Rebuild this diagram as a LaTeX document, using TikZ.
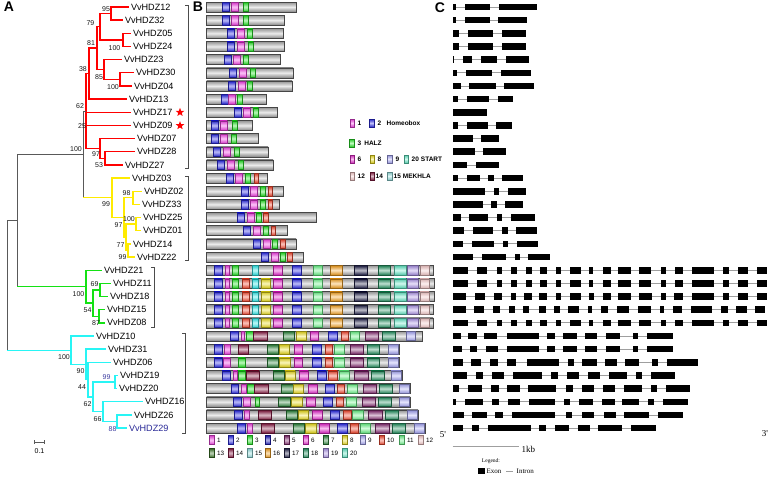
\documentclass[tikz,border=0pt]{standalone}
\usepackage{fontspec}
\setmainfont{Liberation Sans}
\newfontfamily\timesfont{Liberation Serif}
\usetikzlibrary{shapes.geometric}

\definecolor{cred}{RGB}{255,0,0}
\definecolor{cyel}{RGB}{255,235,0}
\definecolor{cgrn}{RGB}{20,225,20}
\definecolor{ccya}{RGB}{40,245,245}
\definecolor{cnavy}{RGB}{40,40,150}
\definecolor{dpink}{RGB}{250,70,235}
\definecolor{dblue}{RGB}{45,45,235}
\definecolor{dgreen}{RGB}{40,235,40}
\definecolor{dred}{RGB}{250,75,50}
\definecolor{dcyan}{RGB}{50,240,240}
\definecolor{dyellow}{RGB}{240,225,30}
\definecolor{dmag}{RGB}{235,45,210}
\definecolor{dlgreen}{RGB}{110,250,140}
\definecolor{dorange}{RGB}{250,165,35}
\definecolor{dnavy}{RGB}{35,35,75}
\definecolor{dgreenE}{RGB}{40,150,100}
\definecolor{daqua}{RGB}{100,235,200}
\definecolor{dlav}{RGB}{175,150,235}
\definecolor{dpale}{RGB}{250,205,205}
\definecolor{dmaroon}{RGB}{140,30,70}
\definecolor{dgreenS}{RGB}{45,135,60}
\definecolor{dpurple}{RGB}{135,45,115}
\definecolor{dlavn}{RGB}{170,170,250}
\definecolor{dblueF}{RGB}{30,30,190}
\definecolor{dgreenT}{RGB}{60,120,40}
\definecolor{dlcyan}{RGB}{150,225,225}

% one gene model of panel C: row, list of exons
\newcommand\gene[2]{%
  \pgfmathsetmacro\yy{7+13.16*#1}
  \foreach \a/\b [remember=\b as \lb (initially 452.7)] in {#2} {
    \draw[intron] (\lb,\yy) -- (\a,\yy);
    \fill[exon] (\a,{\yy-3.3}) rectangle (\b,{\yy+3.3});
  }}

\begin{document}
\begin{tikzpicture}[x=1pt,y=-1pt,
  leaf/.style={anchor=west,inner sep=1.8pt,font=\fontsize{9.1}{10}\selectfont},
  boot/.style={inner sep=0pt,font=\fontsize{7}{8}\selectfont},
  redline/.style={draw=cred,line width=1.35pt},
  yelline/.style={draw=cyel,line width=1.35pt},
  grnline/.style={draw=cgrn,line width=1.35pt},
  cyaline/.style={draw=ccya,line width=1.35pt},
  grayline/.style={draw=gray!70!black,line width=0.6pt},
  brk/.style={draw=gray!60!black,line width=0.6pt},
  gbar/.style={top color=gray!85,bottom color=gray!95,middle color=gray!15,draw=gray!55!black,line width=0.5pt},
  dom/.style={top color=#1!85!black,bottom color=#1!85!black,middle color=#1!30!white,draw=#1!60!black,line width=0.3pt},
  lgd/.style={anchor=west,inner sep=0.5pt,font=\fontsize{6.5}{7}\selectfont\bfseries},
  num/.style={anchor=west,inner sep=0.5pt,font=\fontsize{6.3}{7}\selectfont},
  exon/.style={fill=black},
  intron/.style={draw=gray!75,line width=0.8pt},
  gtxt/.style={inner sep=0.5pt,font=\timesfont\fontsize{9}{10}\selectfont},
  panel/.style={inner sep=0pt,font=\fontsize{14}{14}\selectfont\bfseries}]
\useasboundingbox (0,0) rectangle (778,477);

\node[panel] (pA) at (9,7) {A};
\node[panel] (pB) at (198,7) {B};
\node[panel] (pC) at (440,8) {C};

% ---------- A: tree ----------
\foreach \n/\r/\t/\c in {12/0/129/black,32/1/123/black,05/2/131/black,24/3/131/black,23/4/122/black,
  30/5/134/black,04/6/132/black,13/7/127/black,17/8/131/black,09/9/131/black,07/10/135/black,
  28/11/135/black,27/12/123/black,03/13/130/black,02/14/142/black,33/15/140/black,25/16/141/black,
  01/17/141/black,14/18/131/black,22/19/135/black,21/20/102/black,11/21/111/black,18/22/108/black,
  15/23/105/black,08/24/105/black,10/25/94/black,31/26/106/black,06/27/111/black,19/28/118/black,
  20/29/117/black,16/30/143/black,26/31/132/black,29/32/127/cnavy}
  \node[leaf,text=\c] (l\n) at (\t,{7+13.16*\r}) {VvHDZ\n};

\coordinate (n95) at (111,13.6);
\coordinate (n100a) at (123,39.9);
\coordinate (n79) at (100,26.8);
\coordinate (n100b) at (120,79.4);
\coordinate (n85) at (104,69.5);
\coordinate (n81) at (97,48.1);
\coordinate (n38) at (89,73.6);
\coordinate (n53) at (105,158.4);
\coordinate (n97) at (100,148.5);
\coordinate (rr) at (86,111);
\coordinate (n98) at (133,197.8);
\coordinate (n100y) at (136,224.1);
\coordinate (n99b) at (128,250.5);
\coordinate (n77) at (126,237.3);
\coordinate (n97y) at (124,217.5);
\coordinate (yr) at (112,197.8);
\coordinate (ry) at (83,154.4);
\coordinate (n69) at (100,290);
\coordinate (n87) at (99,316.3);
\coordinate (n54) at (93,303.1);
\coordinate (gr) at (86,286.7);
\coordinate (ryg) at (17,220.5);
\coordinate (n99c) at (115,382.1);
\coordinate (n88) at (117,421.6);
\coordinate (n66) at (103,411.7);
\coordinate (n62c) at (93,396.9);
\coordinate (n44) at (88,379.6);
\coordinate (n90) at (86,364.4);
\coordinate (cr) at (71,350.2);
\coordinate (root) at (7,285.4);

\foreach \p/\c in {n95/l12,n95/l32,n100a/l05,n100a/l24,n79/n95,n79/n100a,n100b/l30,n100b/l04,
  n85/l23,n85/n100b,n81/n79,n81/n85,n38/n81,n38/l13,n53/l28,n53/l27,n97/l07,n97/n53,
  rr/n38,rr/l17,rr/l09,rr/n97}
  \draw[redline] (\p) |- (\c);
\foreach \p/\c in {n98/l02,n98/l33,n100y/l25,n100y/l01,n99b/l14,n99b/l22,n77/n100y,n77/n99b,
  n97y/n98,n97y/n77,yr/l03,yr/n97y}
  \draw[yelline] (\p) |- (\c);
\foreach \p/\c in {n69/l11,n69/l18,n87/l15,n87/l08,n54/n69,n54/n87,gr/l21,gr/n54}
  \draw[grnline] (\p) |- (\c);
\foreach \p/\c in {n99c/l19,n99c/l20,n88/l26,n88/l29,n66/l16,n66/n88,n62c/n99c,n62c/n66,
  n44/l06,n44/n62c,n90/l31,n90/n44,cr/l10,cr/n90}
  \draw[cyaline] (\p) |- (\c);

\draw[grayline] (ry) |- (rr);
\draw[grayline] (ry) -- (ry |- yr);
\draw[yelline] (ry |- yr) -- (yr);
\draw[grayline] (ryg) |- (ry);
\draw[grayline] (ryg) -- (ryg |- gr);
\draw[grnline] (ryg |- gr) -- (gr);
\draw[grayline] (root) |- (ryg);
\draw[grayline] (root) -- (root |- cr);
\draw[cyaline] (root |- cr) -- (cr);

% bootstrap values
\foreach \x/\y/\t/\c [count=\i] in {106/9/95/black,90.5/23.5/79/black,91/43/81/black,114.5/48/100/black,
  83/69.5/38/black,99/77/85/black,113/87.5/100/black,80/106/62/black,82/126/25/black,
  76/149.5/100/black,96/154.5/97/black,99/165.5/53/black,126.5/193.5/98/black,106/204.5/99/black,
  129/219.5/100/black,118.5/225/97/black,120.5/245/77/black,122.5/257.5/99/black,94.5/284/69/black,
  78.5/294/100/black,87.5/310.5/54/black,96/323.5/87/black,64/357.5/100/black,80.5/371.5/90/black,
  82/387/44/black,106.5/377/99/cnavy,87.5/404.5/62/black,97.5/419.5/66/black,112.5/429.5/88/cnavy}
  \node[boot,text=\c!90] (b\i) at (\x,\y) {\t};

\node[star,star points=5,star point ratio=2.4,fill=red,inner sep=0pt,minimum size=9pt] (s17) at (180,112.3) {};
\node[star,star points=5,star point ratio=2.4,fill=red,inner sep=0pt,minimum size=9pt] (s09) at (180,125.6) {};

% clade brackets
\draw[brk] (185,5) -- (188,5) -- (188,168) -- (185,168);
\draw[brk] (185,176) -- (188,176) -- (188,260) -- (185,260);
\draw[brk] (151,267) -- (154,267) -- (154,327) -- (151,327);
\draw[brk] (182,333) -- (185,333) -- (185,433) -- (182,433);

% scale bar
\draw[grayline] (34,440) -- (34,444) (34,442) -- (44,442) (44,440) -- (44,444);
\node[boot] (sc) at (39.5,451) {0.1};

% ---------- B: protein motifs ----------
\foreach \r/\e in {0/296.7,1/284,2/283,3/284,4/280,5/293,6/292,7/266,8/277,9/252,10/258,11/268,
  12/273,13/267,14/283,15/279,16/316,17/287,18/296,19/303,20/433,21/434,22/434,23/433,24/433,
  25/422,26/399,27/399,28/402,29/410,30/410,31/418,32/425}
  \path[gbar] (206.7,{7+13.16*\r-5}) rectangle (\e,{7+13.16*\r+5});

\foreach \r/\xb/\xp/\xg in {0/222/231/243,1/222/231/243,2/227/237/247.5,3/227/237/248,4/224/233/243,
  5/229/239/250,6/228/238/247.5,7/221/228.5/237.5,8/234/243/253,9/211/220/232,10/211/220/231.5,
  11/213/223/234,12/217/227/238,13/226/235/245,14/241/250/260,15/241/250/260,16/237/247/256,
  17/243/253/263,18/253/263/272,19/261/271/280}{
  \pgfmathsetmacro\yy{7+13.16*\r}
  \path[dom=dblue] (\xb,{\yy-4.6}) rectangle ++(7.5,9.2);
  \path[dom=dpink] (\xp,{\yy-4.6}) rectangle ++(7,9.2);
  \path[dom=dgreen] (\xg,{\yy-4.6}) rectangle ++(5,9.2);
}
\foreach \r/\xr in {13/254,14/268,15/268,16/263.5,17/271,18/280.5,19/287.5}
  \path[dom=dred] (\xr,{7+13.16*\r-4.6}) rectangle ++(4.5,9.2);

\foreach \r in {20,...,24}
  \foreach \a/\b/\c in {214/222/dblue,225/229/dpink,232/238/dgreen,252/258/dcyan,273/282/dmag,
    292/301/dblue,313/322/dlgreen,330/342/dorange,354/367/dnavy,378/390/dgreenE,394/406/daqua,
    407/418/dlav,420/429/dpale}
    \path[dom=\c] (\a,{7+13.16*\r-4.6}) rectangle (\b,{7+13.16*\r+4.6});
\foreach \r in {21,...,24}
  \foreach \a/\b/\c in {242/249/dred,261/270/dyellow}
    \path[dom=\c] (\a,{7+13.16*\r-4.6}) rectangle (\b,{7+13.16*\r+4.6});

\foreach \r/\a/\b/\c in {
  25/230/238/dblue,25/241/244/dpink,25/246/253/dgreen,25/253/267/dmaroon,25/283/294/dgreenS,
  25/296/306/dyellow,25/310/318/dmag,25/328/337/dblue,25/341/348/dred,25/350/359/dlgreen,
  25/365/378/dpurple,25/382/395/dgreenE,25/406/415/dlavn,
  26/214/222/dblue,26/224/230/dpink,26/238/248/dmaroon,26/267/278/dgreenS,26/279/289/dyellow,
  26/294/302/dmag,26/312/321/dblue,26/325/332/dred,26/334/344/dlgreen,26/350/363/dpurple,
  26/367/379/dgreenE,26/388/398/dlavn,
  27/214/222/dblue,27/223/230/dpink,27/238/245/dgreen,27/267/278/dgreenS,27/279/290/dyellow,
  27/294/302/dmag,27/312/321/dblue,27/325/332/dred,27/334/344/dlgreen,27/350/363/dpurple,
  27/367/379/dgreenE,27/388/398/dlavn,
  28/222/230/dblue,28/233/237/dpink,28/238/245/dgreen,28/246/259/dmaroon,28/273/284/dgreenS,
  28/285/295/dyellow,28/299/308/dmag,28/317/326/dblue,28/328/337/dred,28/339/349/dlgreen,
  28/354/368/dpurple,28/371/384/dgreenE,28/391/401/dlavn,
  29/231/238/dblue,29/241/246/dpink,29/247/254/dgreen,29/254/268/dmaroon,29/281/293/dgreenS,
  29/293/303/dyellow,29/308/317/dmag,29/325/334/dblue,29/337/344/dred,29/347/357/dlgreen,
  29/363/376/dpurple,29/379/392/dgreenE,29/399/409/dlavn,
  30/233/241/dblue,30/243/250/dpink,30/255/259/dgreen,30/278/290/dgreenS,30/291/302/dyellow,
  30/306/315/dmag,30/323/332/dblue,30/336/343/dred,30/346/356/dlgreen,30/362/375/dpurple,
  30/378/391/dgreenE,30/399/409/dlavn,
  31/234/242/dblue,31/244/249/dpink,31/258/271/dmaroon,31/286/297/dgreenS,31/298/308/dyellow,
  31/312/322/dmag,31/330/339/dblue,31/343/351/dred,31/352/363/dlgreen,31/368/382/dpurple,
  31/385/398/dgreenE,31/407/417/dlavn,
  32/237/245/dblue,32/247/252/dpink,32/261/274/dmaroon,32/293/304/dgreenS,32/305/316/dyellow,
  32/319/329/dmag,32/337/347/dblue,32/350/358/dred,32/360/370/dlgreen,32/375/389/dpurple,
  32/392/405/dgreenE,32/414/424/dlavn}
  \path[dom=\c] (\a,{7+13.16*\r-4.6}) rectangle (\b,{7+13.16*\r+4.6});

% motif key, bottom
\foreach \k/\x/\y/\c in {1/209/440/dpink,2/228/440/dblue,3/247/440/dgreen,4/265/440/dblueF,
  5/284/440/dpurple,6/303/440/dmag,7/323/440/dgreenS,8/342/440/dyellow,9/360/440/dlavn,
  10/379/440/dred,11/399/440/dlgreen,12/418/440/dpale,13/209/453/dgreenT,14/228/453/dmaroon,
  15/247/453/dlcyan,16/265/453/dorange,17/284/453/dnavy,18/303/453/dgreenE,19/323/453/dlav,
  20/342/453/daqua}{
  \path[dom=\c] (\x,{\y-4.5}) rectangle ++(5.5,9);
  \node[num] (k\k) at (\x+7.5,\y) {\k};
}

% motif key, middle
\path[dom=dpink] (350,119) rectangle (354.5,127);
\node[lgd] (m1) at (357,123) {1};
\path[dom=dblue] (369.5,119) rectangle (374,127);
\node[lgd] (m2) at (377,123) {2};
\node[lgd] (mhb) at (386,123) {Homeobox};
\path[dom=dgreen] (349.5,139) rectangle (354,147);
\node[lgd] (m3) at (357,143) {3\hspace{3pt}HALZ};
\path[dom=dmag] (350,155) rectangle (354.5,163);
\node[lgd] (m6) at (357,159) {6};
\path[dom=dyellow] (370,155) rectangle (374.5,163);
\node[lgd] (m8) at (377,159) {8};
\path[dom=dlavn] (387.5,155) rectangle (392,163);
\node[lgd] (m9) at (395,159) {9};
\path[dom=daqua] (404,155) rectangle (408.5,163);
\node[lgd] (m20) at (411,159) {20\hspace{2pt}START};
\path[dom=dpale] (350,172) rectangle (354.5,180);
\node[lgd] (m12) at (357,176) {12};
\path[dom=dmaroon] (370,172) rectangle (374.5,180);
\node[lgd] (m14) at (375,176) {14};
\path[dom=dlcyan] (387.5,172) rectangle (392,180);
\node[lgd] (m15) at (393,176) {15\hspace{2pt}MEKHLA};

% ---------- C: gene structures ----------
\gene{0}{452.7/456,465/490,499/537}
\gene{1}{452.7/456,465/490,498/527}
\gene{2}{452.7/459,468/493,502/526}
\gene{3}{452.7/459,468/493,502/526}
\gene{4}{452.7/454,463/472,481/497,506/529}
\gene{5}{452.7/457,466/492,501/531}
\gene{6}{452.7/461,469/496,504/534}
\gene{7}{452.7/458,467/489,498/513}
\gene{8}{452.7/487}
\gene{9}{452.7/458,467/488,496/512}
\gene{10}{452.7/473,481/499}
\gene{11}{452.7/475,483/506}
\gene{12}{452.7/467,476/499}
\gene{13}{452.7/458,467/480,488/494,502/523}
\gene{14}{452.7/485,494/499,508/526}
\gene{15}{452.7/483,491/497,505/523}
\gene{16}{452.7/461,469/488,497/502,511/535}
\gene{17}{452.7/464,473/493,502/508,516/537}
\gene{18}{452.7/463,472/494,503/508,517/538}
\gene{19}{452.7/473,482/506,515/520,528/550}
\gene{20}{452.7/468.3,477.3/487.3,496.7/501.7,511/516.7,525.7/531.7,540/547.3,556/561,570/580.7,589.3/593.3,602.7/610.7,618.3/630.7,639.3/650.7,660.7/665.7,675/683.3,691.7/714,722.7/729.3,737.7/748.3,756.7/766.7}
\gene{21}{452.7/468.3,477.3/487.3,496.7/501.7,511/516.7,525.7/531.7,540/547.3,556/561,570/580.7,589.3/593.3,602.7/610.7,618.3/630.7,639.3/650.7,660.7/665.7,675/683.3,691.7/714,722.7/729.3,737.7/748.3,756.7/766.7}
\gene{22}{452.7/466,475/485,494/501.7,511/516,524.3/531.7,539.3/546.7,555.7/560.7,570/580.7,589/594,602.7/610.7,618.3/630.7,639/651.7,660.7/665.7,674/683.3,691.7/714,722.7/729.3,737.7/748.3,756.7/766.7}
\gene{23}{452.7/465.7,474.3/484.3,493.3/500,509/515,523.3/529.3,539/546,554.3/560,568.3/579.3,587.7/592.3,601/608.3,616.7/629.3,638.3/651,660/664.3,672.7/682.3,690.7/712.3,721/727.7,736/746.7,755/765}
\gene{24}{452.7/468.3,477.3/487.3,496.7/501.7,511/516.7,525.7/531.7,540/547.3,556/561,570/580.7,589.3/593.3,602.7/610.7,618.3/630.7,639.3/650.7,660.7/665.7,675/683.3,691.7/714,722.7/729.3,737.7/748.3,756.7/766.7}
\gene{25}{452.7/460.7,468.3/476.7,484.3/497.3,506.7/539,547.3/555,562.7/576.7,585/597.3,605.7/620,632.7/638.3,646.7/672.7}
\gene{26}{452.7/461.7,470/477.3,485.7/498.3,506.7/539,547.3/555,562.7/576.7,585/597.3,605.7/620,632.7/638.3,646.7/672.7}
\gene{27}{452.7/462.7,470.7/480.7,490/498.3,506.7/516,527.3/559,567.7/574.3,582.3/596.7,605/616.7,625/639,652.3/658.3,667.3/697.7}
\gene{28}{452.7/466.7,476/483.3,492.3/504.3,513.3/542.3,551/557.7,566.7/579.3,588.3/600,609/626.7,635.7/641.7,650.7/675}
\gene{29}{452.7/459.3,468.3/482.3,490.7/499,507.3/520,528.3/555.7,566/572.7,581.7/594,603.3/615,624/642.3,651/656.7,665.7/690}
\gene{30}{452.7/456,465/483.3,491.7/499.3,508.3/520,529.3/555,564/570,579/593.3,602.3/615,622.3/639.3,648.3/654,662.7/688.3}
\gene{31}{452.7/464,472.3/486.7,495/502.7,511.7/555,566/572.3,581.7/594,604.3/615.7,624.3/649,658.3/683.3}
\gene{32}{452.7/462.7,471.7/479.3,488.3/530.7,539.3/546,555/569,578.3/590,597.7/621.7,630.7/656}

\node[gtxt] (p5) at (443,435) {5'};
\node[gtxt] (p3) at (765,434) {3'};
\draw[intron] (452.7,446) -- (519,446);
\node[gtxt,anchor=west] (kb) at (521,449.5) {1kb};
\node[inner sep=0pt,font=\timesfont\fontsize{5.5}{6}\selectfont] (lg) at (491,461) {Legend:};
\fill[exon] (478,468) rectangle (485,474);
\node[inner sep=0.5pt,anchor=west,font=\timesfont\fontsize{7}{8}\selectfont] (ex) at (486,471) {Exon};
\draw[intron] (506,471) -- (513,471);
\node[inner sep=0.5pt,anchor=west,font=\timesfont\fontsize{7}{8}\selectfont] (in) at (516,471.5) {Intron};
\end{tikzpicture}
\end{document}
